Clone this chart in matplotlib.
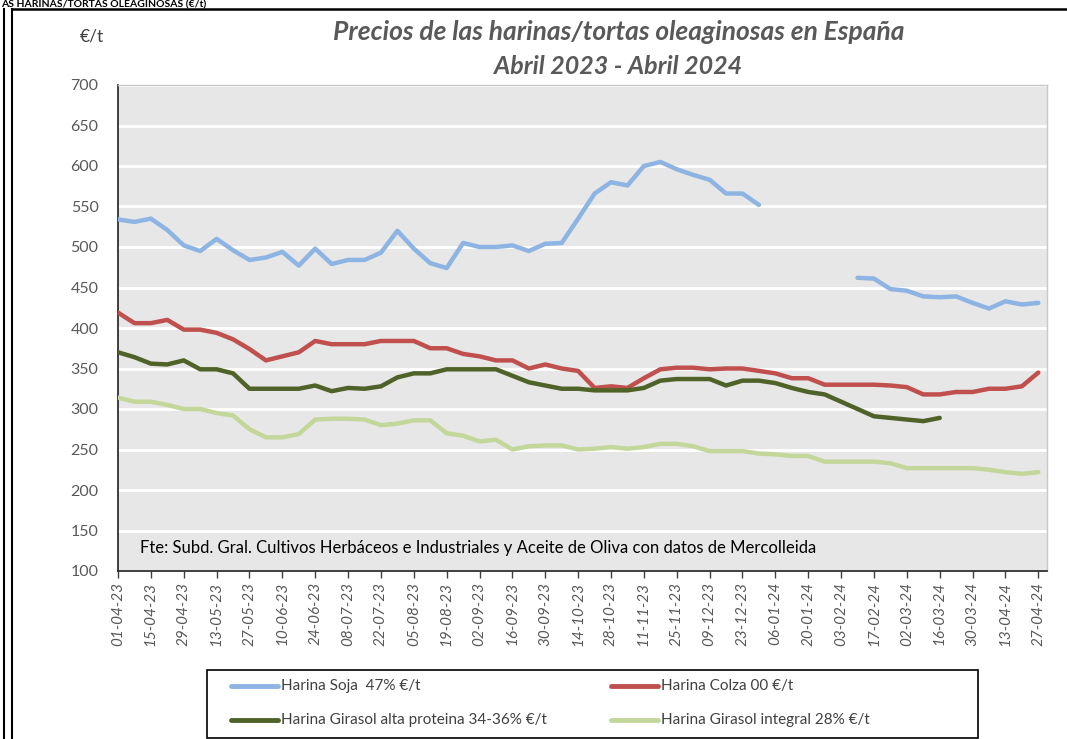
import numpy as np
import pandas as pd
import matplotlib
matplotlib.use("Agg")
import matplotlib.pyplot as plt
from matplotlib.lines import Line2D
from matplotlib.patches import Rectangle

nan = np.nan
dates = pd.date_range("2023-04-01", periods=57, freq="7D")

soja = [534, 531, 535, 521, 502, 495, 510, 496, 484, 487,
        494, 477, 498, 479, 484, 484, 493, 520, 498, 480,
        474, 505, 500, 500, 502, 495, 504, 505, 535, 566,
        580, 576, 600, 605, 596, 589, 583, 566, 566, 552,
        nan, nan, nan, nan, nan, 462, 461, 448, 446, 439,
        438, 439, 431, 424, 433, 429, 431]
colza = [419, 406, 406, 410, 398, 398, 394, 386, 374, 360,
         365, 370, 384, 380, 380, 380, 384, 384, 384, 375,
         375, 368, 365, 360, 360, 350, 355, 350, 347, 326,
         328, 326, 338, 349, 351, 351, 349, 350, 350, 347,
         344, 338, 338, 330, 330, 330, 330, 329, 327, 318,
         318, 321, 321, 325, 325, 328, 345]
girasol_ap = [370, 364, 356, 355, 360, 349, 349, 344, 325, 325,
              325, 325, 329, 322, 326, 325, 328, 339, 344, 344,
              349, 349, 349, 349, 341, 333, 329, 325, 325, 323,
              323, 323, 326, 335, 337, 337, 337, 329, 335, 335,
              332, 326, 321, 318, 309, 300, 291, 289, 287, 285,
              289, nan, nan, nan, nan, nan, nan]
girasol_int = [314, 309, 309, 305, 300, 300, 295, 292, 275, 265,
               265, 269, 287, 288, 288, 287, 280, 282, 286, 286,
               270, 267, 260, 262, 250, 254, 255, 255, 250, 251,
               253, 251, 253, 257, 257, 254, 248, 248, 248, 245,
               244, 242, 242, 235, 235, 235, 235, 233, 227, 227,
               227, 227, 227, 225, 222, 220, 222]

series_names = ["Harina Soja  47% €/t", "Harina Colza 00 €/t",
                "Harina Girasol alta proteina 34-36% €/t",
                "Harina Girasol integral 28% €/t"]
series_values = [soja, colza, girasol_ap, girasol_int]
colors = ["#8DB4E2", "#C0504D", "#4F6228", "#C4D79B"]

yticks = [100, 150, 200, 250, 300, 350, 400, 450, 500, 550, 600, 650, 700]
xtick_labels = ["01-04-23", "15-04-23", "29-04-23", "13-05-23", "27-05-23", "10-06-23",
                "24-06-23", "08-07-23", "22-07-23", "05-08-23", "19-08-23", "02-09-23",
                "16-09-23", "30-09-23", "14-10-23", "28-10-23", "11-11-23", "25-11-23",
                "09-12-23", "23-12-23", "06-01-24", "20-01-24", "03-02-24", "17-02-24",
                "02-03-24", "16-03-24", "30-03-24", "13-04-24", "27-04-24"]
title1 = "Precios de las harinas/tortas oleaginosas en España"
title2 = "Abril 2023 - Abril 2024"
source = "Fte: Subd. Gral. Cultivos Herbáceos e Industriales y Aceite de Oliva con datos de Mercolleida"
header = "AS HARINAS/TORTAS OLEAGINOSAS (€/t)"

plt.rcParams['font.family'] = ['Lato', 'DejaVu Sans']

W, H = 1067, 739
fig = plt.figure(figsize=(W / 100, H / 100), dpi=100)

def fx(px):
    return px / W

def fy(py):
    return 1 - py / H

# frames
fig.add_artist(Line2D([fx(3.5), fx(3.5)], [0, fy(9)], color="black", lw=1.5, transform=fig.transFigure))
fig.add_artist(Line2D([fx(12), fx(12)], [0, fy(9)], color="black", lw=1.5, transform=fig.transFigure))
fig.add_artist(Line2D([fx(12), 1], [fy(9), fy(9)], color="black", lw=1.8, transform=fig.transFigure))
fig.text(fx(1), fy(0.5), header, fontsize=7.5, fontweight="bold", ha="left", va="top")

ax = fig.add_axes([fx(118), fy(571), fx(1047) - fx(118), fy(85) - fy(571)])
ax.set_facecolor("#E7E7E7")
for vals, c in zip(series_values, colors):
    ax.plot(dates, vals, color=c, lw=3.2, solid_capstyle="round", solid_joinstyle="round", zorder=3)

ax.set_ylim(100, 700)
ax.set_yticks(yticks)
ax.yaxis.grid(True, color="white", lw=2)
ax.set_axisbelow(True)
ax.tick_params(axis="y", length=0, labelsize=11.5, labelcolor="#595959", pad=14)

ax.set_xlim(dates[0], dates[-1] + pd.Timedelta(days=3.7))
ax.set_xticks(dates[::2], labels=xtick_labels, rotation=90, fontstyle="italic")
ax.tick_params(axis="x", direction="out", length=5, width=1, color="#404040",
               labelsize=11, labelcolor="#595959", pad=3)

for s in ["left", "bottom"]:
    ax.spines[s].set_color("#202020")
    ax.spines[s].set_linewidth(1.2)
for s in ["top", "right"]:
    ax.spines[s].set_color("#C8C8C8")
    ax.spines[s].set_linewidth(1)

ax.text(0.024, 0.048, source, transform=ax.transAxes, fontsize=12, color="black", ha="left", va="center")

fig.text(fx(619), fy(32), title1, fontsize=19, fontweight="bold", fontstyle="italic",
         color="#595959", ha="center", va="center")
fig.text(fx(618), fy(66), title2, fontsize=18, fontweight="bold", fontstyle="italic",
         color="#595959", ha="center", va="center")
fig.text(fx(92), fy(37), "€/t", fontsize=12.5, color="#404040", ha="center", va="center")

# legend box
fig.add_artist(Rectangle((fx(207), fy(738)), fx(978) - fx(207), fy(670) - fy(738),
                         transform=fig.transFigure, fill=False, edgecolor="black", lw=1.2))
leg_pos = [(231, 686), (611, 686), (231, 720), (611, 720)]
for (lx, ly), name, c in zip(leg_pos, series_names, colors):
    fig.add_artist(Line2D([fx(lx), fx(lx + 47)], [fy(ly), fy(ly)], color=c, lw=3.5,
                          solid_capstyle="round", transform=fig.transFigure))
    fig.text(fx(lx + 50), fy(ly), name, fontsize=11, color="#404040", ha="left", va="center")

fig.savefig("out.png", dpi=100)
